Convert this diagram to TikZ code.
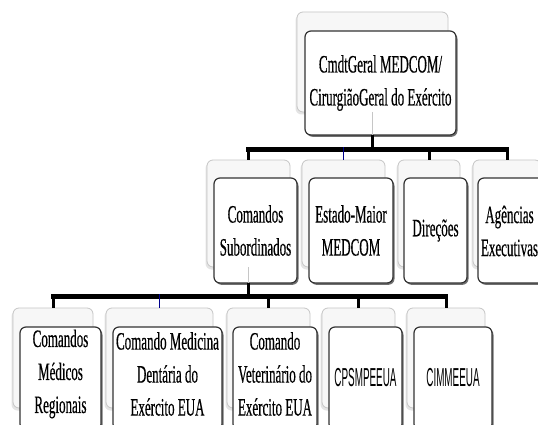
\documentclass[tikz,border=0pt]{standalone}
\usepackage{fontspec}
\usetikzlibrary{shadows}
\newfontfamily\nserif[FakeStretch=0.52,FakeBold=0.4]{Liberation Serif}
\newfontfamily\nsans[FakeStretch=0.38]{Liberation Sans}
\begin{document}
\begin{tikzpicture}[x=1pt,y=-1pt,
  backbox/.style={rectangle,rounded corners=6pt,fill=gray!6,draw=gray!45,line width=0.8pt,
    inner sep=0pt,outer sep=0pt,
    drop shadow={shadow xshift=-1.5pt,shadow yshift=-2.5pt,fill=gray!60,opacity=0.35}},
  frontbox/.style={rectangle,rounded corners=6pt,fill=white,draw=black!80,line width=1.2pt,
    inner sep=0pt,outer sep=0pt,align=center,
    font=\nserif\fontsize{25}{33}\selectfont,
    drop shadow={shadow xshift=1.5pt,shadow yshift=-1.8pt,fill=black!70,opacity=0.8}},
  txt/.style={align=center,inner sep=0pt,font=\nserif\fontsize{25}{33}\selectfont},
  sanstxt/.style={align=center,inner sep=0pt,font=\nsans\fontsize{26}{30}\selectfont},
  bar/.style={line width=4.8pt,line cap=rect},
  drop/.style={line width=3pt},
  bluedrop/.style={line width=1pt,draw=blue!55!black},
  ghost/.style={line width=0.6pt,draw=gray!45}
]
\useasboundingbox (0,0) rectangle (538,425);
\clip (0,0) rectangle (538,425);
\fill[white] (0,0) rectangle (538,425);

% back boxes
\node[backbox,minimum width=151pt,minimum height=100pt] (b-top) at (372.5,62) {};
\node[backbox,minimum width=83pt,minimum height=107pt] (b-sub) at (248.5,213.5) {};
\node[backbox,minimum width=83pt,minimum height=107pt] (b-em) at (343.5,213.5) {};
\node[backbox,minimum width=62pt,minimum height=107pt] (b-dir) at (429,213.5) {};
\node[backbox,minimum width=68pt,minimum height=107pt] (b-ag) at (507,213.5) {};
\node[backbox,minimum width=80pt,minimum height=100pt] (b-med) at (53,358) {};
\node[backbox,minimum width=107pt,minimum height=100pt] (b-den) at (159.5,358) {};
\node[backbox,minimum width=83pt,minimum height=100pt] (b-vet) at (268.5,358) {};
\node[backbox,minimum width=73pt,minimum height=100pt] (b-cps) at (358.5,358) {};
\node[backbox,minimum width=78pt,minimum height=100pt] (b-cim) at (446,358) {};

% front boxes
\node[frontbox,minimum width=151pt,minimum height=104pt] (f-top) at (380.5,83)
  {CmdtGeral MEDCOM/\\CirurgiãoGeral do Exército};
\node[frontbox,minimum width=83pt,minimum height=105pt] (f-sub) at (255.5,230.5)
  {Comandos\\Subordinados};
\node[frontbox,minimum width=84pt,minimum height=105pt] (f-em) at (351,230.5)
  {Estado-Maior\\MEDCOM};
\node[frontbox,minimum width=63pt,minimum height=105pt] (f-dir) at (435.5,230.5)
  {Direções};
\node[frontbox,minimum width=66pt,minimum height=105pt] (f-ag) at (511,230.5) {};
\node[txt] (t-ag) at (509.5,231) {Agências\\Executivas};
\node[frontbox,minimum width=81pt,minimum height=103pt] (f-med) at (60.5,378.5) {};
\node[frontbox,minimum width=109pt,minimum height=103pt] (f-den) at (167.5,378.5) {};
\node[frontbox,minimum width=84pt,minimum height=103pt] (f-vet) at (275,378.5) {};
\node[frontbox,minimum width=73pt,minimum height=103pt] (f-cps) at (365.5,378.5) {};
\node[frontbox,minimum width=78pt,minimum height=103pt] (f-cim) at (453,378.5) {};

% level 3 texts
\node[txt] (t-med) at (60.5,374) {Comandos\\Médicos\\Regionais};
\node[txt] (t-den) at (167.5,374) {Comando Medicina\\Dentária do\\Exército EUA};
\node[txt] (t-vet) at (275,374) {Comando\\Veterinário do\\Exército EUA};
\node[sanstxt] (t-cps) at (365.5,378) {CPSMPEEUA};
\node[sanstxt] (t-cim) at (453,378) {CIMMEEUA};

% bar coordinates
\coordinate (bar1) at (0,149.5);
\coordinate (bar2) at (0,296.5);

% connectors level 1 -> 2
\draw[ghost] (b-top.south) -- (b-top.south |- f-top.south);
\draw[drop] (b-top.south |- f-top.south) -- (b-top.south |- bar1);
\draw[bar] (b-sub.north |- bar1) -- (b-ag.north |- bar1);
\draw[drop] (b-sub.north |- bar1) -- (b-sub.north);
\draw[bluedrop] ([yshift=2.4pt]b-em.north |- bar1) -- (b-em.north);
\draw[drop] (b-dir.north |- bar1) -- (b-dir.north);
\draw[drop] (b-ag.north |- bar1) -- (b-ag.north);

% connectors level 2 -> 3
\draw[ghost] (b-sub.south) -- (b-sub.south |- f-sub.south);
\draw[drop] (b-sub.south |- f-sub.south) -- (b-sub.south |- bar2);
\draw[bar] (b-med.north |- bar2) -- (b-cim.north |- bar2);
\draw[drop] (b-med.north |- bar2) -- (b-med.north);
\draw[bluedrop] ([yshift=2.4pt]b-den.north |- bar2) -- (b-den.north);
\draw[drop] (b-vet.north |- bar2) -- (b-vet.north);
\draw[drop] (b-cps.north |- bar2) -- (b-cps.north);
\draw[drop] (b-cim.north |- bar2) -- (b-cim.north);
\end{tikzpicture}
\end{document}
